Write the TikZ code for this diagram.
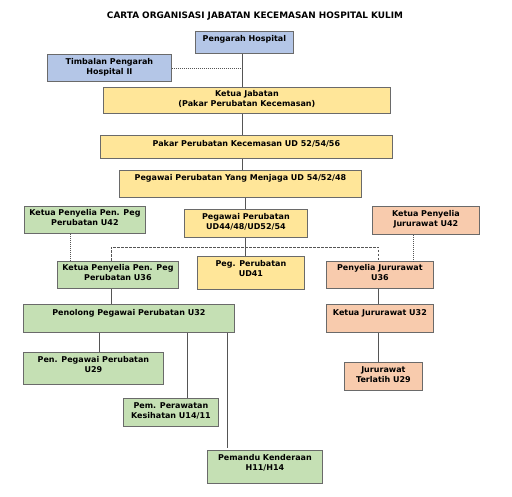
\documentclass[tikz,border=0pt]{standalone}
\usepackage{fontspec}
\setmainfont{DejaVu Sans}
\usetikzlibrary{positioning}
\definecolor{bluebox}{HTML}{B4C6E7}
\definecolor{yellowbox}{HTML}{FFE699}
\definecolor{greenbox}{HTML}{C5E0B4}
\definecolor{orangebox}{HTML}{F8CBAD}
\definecolor{edgegray}{HTML}{6A6A6A}
\definecolor{linegray}{HTML}{555555}
\begin{document}
\begin{tikzpicture}[x=1pt, y=-1pt]
	\tikzstyle{box}
	  =[draw=edgegray, line width=0.8pt, rectangle, anchor=north west,
	  inner sep=0pt]
	\tikzstyle{lbl}
	  =[inner sep=0pt, align=center, font=\bfseries\fontsize{8}{10.5}\selectfont]
	\tikzstyle{link}
	  =[draw=linegray, line width=0.9pt]
	\tikzstyle{dots}
	  =[draw=linegray, line width=0.7pt, dash pattern=on 1pt off 1pt]
	\tikzstyle{dash_link}
	  =[draw=linegray, line width=0.8pt, dash pattern=on 2.5pt off 1.5pt]

	\useasboundingbox (0,0) rectangle (512,497);

	\node[inner sep=0pt, font=\bfseries\fontsize{8.9}{10}\selectfont] (title)
	  at (255,16) {CARTA ORGANISASI JABATAN KECEMASAN HOSPITAL KULIM};

	\node[box, fill=bluebox, minimum width=98, minimum height=22] (pengarah)
	  at (195,31) {};
	\node[lbl, anchor=north] (pengarahtxt)
	  [below=4pt of pengarah.north] {Pengarah Hospital};
	\node[box, fill=bluebox, minimum width=124, minimum height=27] (timbalan)
	  at (47,54) {};
	\node[lbl, anchor=north] (timbalantxt)
	  [below=4pt of timbalan.north] {Timbalan Pengarah\\Hospital II};

	\node[box, fill=yellowbox, minimum width=287, minimum height=26] (ketua)
	  at (103,87) {};
	\node[lbl, anchor=north] (ketuatxt)
	  [below=3pt of ketua.north] {Ketua Jabatan\\(Pakar Perubatan Kecemasan)};
	\node[box, fill=yellowbox, minimum width=292, minimum height=23] (pakar)
	  at (100,135) {};
	\node[lbl, anchor=north] (pakartxt)
	  [below=5pt of pakar.north] {Pakar Perubatan Kecemasan UD 52/54/56};
	\node[box, fill=yellowbox, minimum width=242, minimum height=27] (menjaga)
	  at (119,170) {};
	\node[lbl, anchor=north] (menjagatxt)
	  [below=4pt of menjaga.north] {Pegawai Perubatan Yang Menjaga UD 54/52/48};

	\node[box, fill=greenbox, minimum width=121, minimum height=27] (kpen42)
	  at (24,206) {};
	\node[lbl, anchor=north] (kpen42txt)
	  [below=3pt of kpen42.north] {Ketua Penyelia Pen. Peg\\Perubatan U42};
	\node[box, fill=yellowbox, minimum width=123, minimum height=28] (pegud44)
	  at (184,209) {};
	\node[lbl, anchor=north] (pegud44txt)
	  [below=4pt of pegud44.north] {Pegawai Perubatan\\UD44/48/UD52/54};
	\node[box, fill=orangebox, minimum width=107, minimum height=28] (kjur42)
	  at (372,206) {};
	\node[lbl, anchor=north] (kjur42txt)
	  [below=4pt of kjur42.north] {Ketua Penyelia\\Jururawat U42};

	\node[box, fill=greenbox, minimum width=121, minimum height=27] (kpen36)
	  at (57,261) {};
	\node[lbl, anchor=north] (kpen36txt)
	  [below=3pt of kpen36.north] {Ketua Penyelia Pen. Peg\\Perubatan U36};
	\node[box, fill=yellowbox, minimum width=107, minimum height=33] (pegud41)
	  at (197,256) {};
	\node[lbl, anchor=north] (pegud41txt)
	  [below=4pt of pegud41.north] {Peg. Perubatan\\UD41};
	\node[box, fill=orangebox, minimum width=107, minimum height=27] (pjur36)
	  at (326,261) {};
	\node[lbl, anchor=north] (pjur36txt)
	  [below=3pt of pjur36.north] {Penyelia Jururawat\\U36};

	\node[box, fill=greenbox, minimum width=211, minimum height=28] (penolong)
	  at (23,304) {};
	\node[lbl, anchor=north] (penolongtxt)
	  [below=5pt of penolong.north] {Penolong Pegawai Perubatan U32};
	\node[box, fill=orangebox, minimum width=107, minimum height=28] (kjur32)
	  at (326,304) {};
	\node[lbl, anchor=north] (kjur32txt)
	  [below=5pt of kjur32.north] {Ketua Jururawat U32};

	\node[box, fill=greenbox, minimum width=140, minimum height=32] (pen29)
	  at (23,352) {};
	\node[lbl, anchor=north] (pen29txt)
	  [below=4pt of pen29.north] {Pen. Pegawai Perubatan\\U29};
	\node[box, fill=greenbox, minimum width=95, minimum height=28] (pem)
	  at (123,398) {};
	\node[lbl, anchor=north] (pemtxt)
	  [below=4pt of pem.north] {Pem. Perawatan\\Kesihatan U14/11};
	\node[box, fill=greenbox, minimum width=115, minimum height=33] (pemandu)
	  at (207,450) {};
	\node[lbl, anchor=north] (pemandutxt)
	  [below=4pt of pemandu.north] {Pemandu Kenderaan\\H11/H14};
	\node[box, fill=orangebox, minimum width=78, minimum height=28] (terlatih)
	  at (344,362) {};
	\node[lbl, anchor=north] (terlatihtxt)
	  [below=4pt of terlatih.north] {Jururawat\\Terlatih U29};

	\coordinate (spine) at (242,0);
	\coordinate (dashl) at (111,247);
	\coordinate (dashr) at (378,247);
	\coordinate (dotl) at (70,0);
	\coordinate (dotr) at (413,0);
	\coordinate (drop29) at (99,0);
	\coordinate (droppem) at (187,0);
	\coordinate (dropdrv) at (227,448);

	\draw[link] (pengarah.south -| spine)--(ketua.north -| spine);
	\draw[dots] (timbalan.east)--(timbalan.east -| spine);
	\draw[link] (ketua.south -| spine)--(pakar.north -| spine);
	\draw[link] (pakar.south -| spine)--(menjaga.north -| spine);
	\draw[link] (menjaga.south -| pegud44)--(pegud44.north);
	\draw[link] (pegud44.south)--(pegud41.north -| pegud44.south);
	\draw[dash_link] (kpen36.north -| dashl)--(dashl)--(dashr)
	  --(pjur36.north -| dashr);
	\draw[dots] (kpen42.south -| dotl)--(kpen36.north -| dotl);
	\draw[dots] (kjur42.south -| dotr)--(pjur36.north -| dotr);
	\draw[link] (kpen36.south -| dashl)--(penolong.north -| dashl);
	\draw[link] (pjur36.south -| dashr)--(kjur32.north -| dashr);
	\draw[link] (kjur32.south -| dashr)--(terlatih.north -| dashr);
	\draw[link] (penolong.south -| drop29)--(pen29.north -| drop29);
	\draw[link] (penolong.south -| droppem)--(pem.north -| droppem);
	\draw[link] (penolong.south -| dropdrv)--(dropdrv);
\end{tikzpicture}
\end{document}
